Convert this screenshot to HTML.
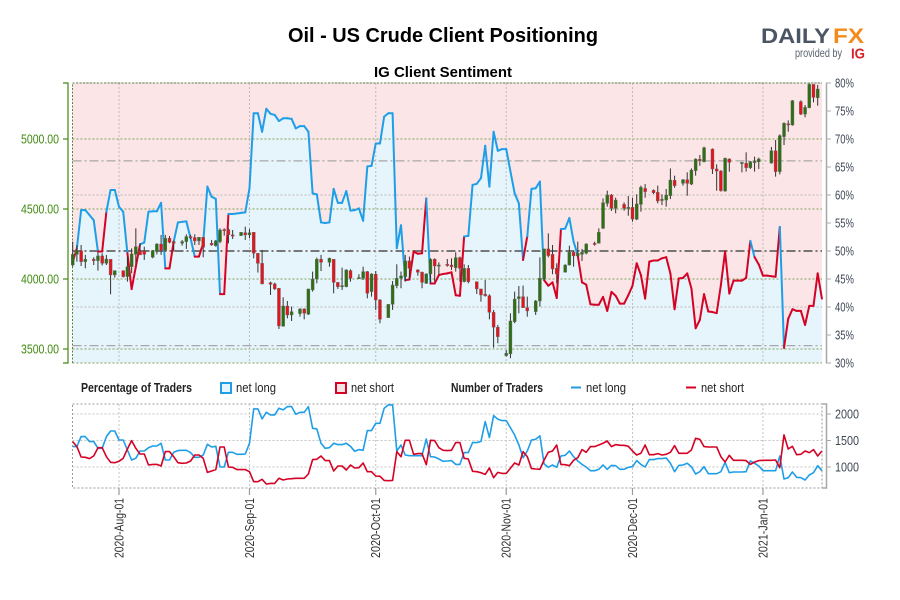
<!DOCTYPE html>
<html>
<head>
<meta charset="utf-8">
<title>Oil - US Crude Client Positioning</title>
<style>
html,body{margin:0;padding:0;background:#fff;}
#chart{display:block;width:900px;height:600px;font-family:"Liberation Sans",sans-serif;}
</style>
</head>
<body>
<svg id="chart" xmlns="http://www.w3.org/2000/svg" width="900" height="600" viewBox="0 0 900 600">
  <text x="288" y="42" font-size="20" font-weight="700" fill="#000" textLength="310" lengthAdjust="spacingAndGlyphs">Oil - US Crude Client Positioning</text>
  <text x="374" y="77" font-size="15" font-weight="700" fill="#000" textLength="138" lengthAdjust="spacingAndGlyphs">IG Client Sentiment</text>
  <g>
    <text x="761" y="43" font-size="21" font-weight="700" fill="#4b5563" textLength="69" lengthAdjust="spacingAndGlyphs">DAILY</text>
    <text x="833" y="43" font-size="21" font-weight="700" fill="#f28a1c" textLength="31" lengthAdjust="spacingAndGlyphs">FX</text>
    <text x="795" y="57" font-size="12" fill="#5a6370" textLength="47" lengthAdjust="spacingAndGlyphs">provided by</text>
    <text x="851" y="58.5" font-size="15" font-weight="700" fill="#d8232a" textLength="14" lengthAdjust="spacingAndGlyphs">IG</text>
  </g>
  <g id="main-panel"></g>
  <g font-size="13" fill="#222">
    <text x="81" y="392" font-weight="700" textLength="111" lengthAdjust="spacingAndGlyphs">Percentage of Traders</text>
    <rect x="221" y="383" width="10" height="10" fill="#e6f4fb" stroke="#1f9ee8" stroke-width="2"></rect>
    <text x="236" y="392" textLength="40" lengthAdjust="spacingAndGlyphs">net long</text>
    <rect x="336" y="383" width="10" height="10" fill="#f3e3e5" stroke="#d40224" stroke-width="2"></rect>
    <text x="351" y="392" textLength="43" lengthAdjust="spacingAndGlyphs">net short</text>
    <text x="451" y="392" font-weight="700" textLength="92" lengthAdjust="spacingAndGlyphs">Number of Traders</text>
    <line x1="571" x2="581" y1="387.5" y2="387.5" stroke="#1f9ee8" stroke-width="2"></line>
    <text x="586" y="392" textLength="40" lengthAdjust="spacingAndGlyphs">net long</text>
    <line x1="686" x2="696" y1="387.5" y2="387.5" stroke="#d40224" stroke-width="2"></line>
    <text x="701" y="392" textLength="43" lengthAdjust="spacingAndGlyphs">net short</text>
  </g>
  <g id="count-panel"></g>
</svg>
<script>
// ---- Data ----
const monthLabels = ['2020-Aug-01','2020-Sep-01','2020-Oct-01','2020-Nov-01','2020-Dec-01','2021-Jan-01'];
const monthDays = [11,42,72,103,133,164];
const priceTicks = [3500,4000,4500,5000];
const pctTicks = [30,35,40,45,50,55,60,65,70,75,80];
const countTicks = [1000,1500,2000];
const referenceLevels = [66.1,33.1];

// Percent of traders net long, one value per calendar day from 2020-07-21
const pctLong = [48,50.5,57.3,57.3,56.4,55.5,49.9,49.9,57,60.9,60.9,57.9,57,49.6,43.2,47.2,51.2,51.5,57,57.1,
57.1,58.6,46.9,46.9,51.7,55.1,55.2,55.3,52.3,49,49,51.4,61.5,59.7,59.3,42.3,42.3,56.6,56.6,56.7,
56.8,56.9,61.2,74.6,74.6,71.3,75.4,74.5,74.3,73.2,73.7,73.7,73.6,71.9,72.3,72.3,71.3,60.3,60.1,55.1,
55,55.1,61.1,58.6,58.6,60.7,57.2,57.3,57.6,55.4,65.1,65.2,69.2,69.2,74,74.6,74.6,50.5,54.6,44.8,
44.9,49.9,49.5,49.6,59.4,44.2,44.2,45.7,45.9,46,46.2,42.1,42,52.6,52.7,61.8,62,63,68.8,61.5,
71.3,67.9,68.2,68.2,64.2,60.3,58.5,48.4,52.6,61.1,61.2,62.4,44.8,43.8,44.4,41.6,53.9,54,55.9,51.7,
49.2,44.4,44,40.5,40.4,40.4,41.8,39.3,42.7,42,40.6,40.6,42.1,43.8,47.8,45.7,41.5,48.1,48.3,48.3,
48.7,48.9,46,39.6,45.1,45.2,46,43.3,36.2,37.7,42.3,39.2,39.1,38.9,43.9,49.9,42.4,44.7,44.7,44.7,
45.2,51.8,48.9,47.6,45.6,45.6,45.5,45.4,54.3,32.7,37.9,39.6,39.3,39.3,36.8,40.2,40.2,46,41.5];

const netLong = [1384,1384,1573,1573,1479,1479,1353,1353,1573,1680,1680,1510,1510,1321,1132,1164,1302,1302,1365,1397,
1397,1447,1132,1132,1277,1309,1315,1315,1271,1183,1183,1227,1428,1378,1391,1000,1000,1277,1277,1239,
1239,1246,1447,2096,2096,1907,2033,1983,1983,2109,2077,2140,2140,1995,2033,2033,2140,1731,1718,1447,1353,1365,
1447,1422,1422,1447,1391,1296,1328,1315,1687,1687,1825,1825,2109,2172,2172,1302,1416,1227,1214,1214,1214,1214,
1529,1195,1189,1151,1107,1113,1120,1050,1050,1271,1271,1460,1460,1485,1857,1554,1970,1901,1876,1876,1743,1605,
1416,1176,1302,1510,1523,1586,1057,994,1038,994,1208,1220,1302,1195,1113,1050,1000,931,931,956,
1038,956,1031,1025,956,956,994,1006,1120,1050,1000,1139,1139,1158,1158,1170,1069,912,1031,1038,1069,1006,868,912,
1006,874,874,874,912,1088,893,906,906,906,912,1113,1069,1019,931,931,931,931,1208,773,798,906,805,798,754,849,893,1025,931];

const netShort = [1479,1384,1189,1183,1158,1208,1365,1365,1195,1088,1082,1107,1164,1340,1498,1353,1246,1246,1038,1050,
1050,1019,1290,1290,1195,1082,1069,1076,1113,1227,1227,1164,899,924,950,1378,1378,1000,994,950,
950,950,912,723,723,767,679,691,691,786,754,773,780,786,786,786,868,1139,1145,1208,1120,1120,
924,1019,1019,943,1038,981,987,1076,912,912,830,824,748,742,748,1290,1195,1504,1504,1239,1252,1252,
1044,1504,1498,1365,1315,1309,1315,1460,1460,1164,1151,918,912,893,861,981,798,899,880,880,975,1076,
1038,1290,1195,969,962,956,1132,1277,1302,1416,1050,1044,1025,1126,1176,1328,1277,1384,1384,1416,
1447,1491,1384,1422,1410,1410,1391,1302,1227,1258,1416,1233,1233,1252,1227,1239,1277,1403,1258,1258,1258,1321,1542,1523,
1384,1378,1378,1378,1195,1095,1220,1126,1126,1126,1120,1050,1095,1120,1126,1126,1126,1132,987,1605,1340,1391,1233,1239,1302,1271,1328,1208,1302];

// Candles: day offset from 2020-07-21, then open/high/low/close
const candleDays = [0,1,2,3,5,6,7,8,9,10,12,13,14,15,16,17,19,20,21,22,23,24,26,27,28,29,30,31,33,34,35,36,37,38,40,41,42,43,44,45,47,48,49,50,51,52,54,55,56,57,58,59,
61,62,63,64,65,66,68,69,70,71,72,73,75,76,77,78,79,80,82,83,84,85,86,87,89,90,91,92,93,94,96,97,98,99,100,101,103,104,105,106,107,108,110,111,112,113,114,115,117,118,119,120,121,122,124,125,
126,127,128,129,131,132,133,134,135,136,138,139,140,141,142,143,145,146,147,148,149,150,152,153,154,155,156,159,160,161,162,163,166,167,168,169,170,171,173,174,175,176,177];
const candleOpen = [4100,4176,4203,4124,4141,4131,4165,4112,4141,4029,4060,4017,4088,4176,4200,4200,4155,4196,4250,4203,4291,4267,4255,4267,4303,4296,4272,4298,4255,4238,4267,4353,4353,4315,4310,4331,4315,4334,4184,4112,3974,3965,3934,3662,3807,3743,3753,3786,3748,3922,4000,4141,
4119,4141,3976,3950,3945,4060,4007,4005,4053,3910,4034,3850,3724,3819,3953,4005,4017,4129,4065,4048,3969,4036,4141,4093,4105,4100,4081,4153,3981,4076,3981,3929,3891,3881,3762,3655,3453,3465,3695,3860,3874,3795,3767,3843,4000,4215,4176,4076,4048,4100,4191,4165,4176,4184,4255,4255,
4362,4540,4600,4505,4533,4509,4512,4426,4533,4647,4633,4619,4564,4564,4595,4705,4683,4709,4678,4774,4855,4838,4928,4786,4771,4628,4857,4831,4826,4795,4836,4838,4828,4916,4767,5017,5109,5100,5267,5178,5224,5390,5295];
const candleHigh = [4267,4243,4243,4172,4155,4191,4184,4172,4141,4060,4060,4160,4219,4362,4255,4231,4207,4255,4315,4315,4307,4274,4279,4319,4315,4319,4298,4298,4279,4279,4362,4362,4362,4350,4334,4374,4357,4334,4184,4207,3981,3974,3934,3869,3843,3803,3791,3791,3929,4053,4153,4172,
4153,4141,3976,4081,4069,4069,4034,4088,4057,4041,4057,3857,3819,3986,4105,4053,4172,4160,4069,4053,4041,4148,4148,4119,4143,4148,4191,4160,4105,4100,3981,3929,3993,3891,3779,3672,3493,3755,3910,3950,3953,3874,3850,4155,4215,4326,4243,4112,4105,4238,4200,4267,4215,4255,4267,4362,
4576,4631,4607,4581,4547,4593,4581,4605,4667,4678,4640,4667,4605,4643,4790,4738,4714,4762,4790,4862,4886,4945,4933,4819,4778,4867,4862,4833,4905,4843,4874,4867,4943,4993,5033,5119,5133,5278,5276,5243,5397,5390,5386];
const candleLow = [4088,4124,4093,4076,4100,4060,4096,4100,3891,4010,4010,3981,4041,4105,4172,4136,4148,4176,4172,4196,4255,4196,4238,4215,4286,4243,4243,4155,4238,4231,4255,4310,4255,4286,4307,4279,4291,4148,4046,3962,3886,3922,3643,3660,3719,3700,3731,3712,3743,3910,3969,4057,
4088,3898,3929,3922,3941,3981,4005,3993,3862,3874,3779,3684,3724,3779,3934,3934,3981,3993,4024,3934,3965,3969,3981,4029,4088,4065,4053,3981,3976,3969,3893,3838,3874,3712,3510,3541,3446,3434,3684,3755,3795,3731,3743,3803,3993,4155,4034,3969,4046,4096,4088,4160,4129,4176,4238,4255,
4357,4517,4486,4469,4488,4452,4409,4421,4481,4581,4607,4540,4528,4517,4571,4652,4667,4595,4671,4738,4809,4833,4750,4631,4624,4624,4767,4762,4767,4786,4767,4786,4824,4731,4747,4957,5052,5095,5171,5155,5219,5262,5238];
const candleClose = [4176,4203,4124,4141,4131,4165,4112,4143,4029,4060,4017,4088,4179,4231,4172,4176,4203,4250,4203,4291,4262,4255,4267,4303,4296,4272,4298,4226,4243,4272,4350,4348,4315,4310,4334,4315,4331,4184,4112,3965,3962,3929,3665,3807,3743,3767,3786,3755,3929,4000,4141,4119,
4148,3976,3945,3953,4065,4005,4010,4053,3898,4036,3850,3712,3819,3957,4005,4022,4129,4076,4048,3976,4036,4141,4093,4100,4100,4088,4153,4076,4076,3981,3929,3886,3881,3762,3655,3588,3469,3700,3857,3874,3795,3772,3843,4005,4215,4167,4072,4036,4100,4191,4165,4184,4191,4250,4250,4334,
4545,4600,4505,4564,4505,4512,4428,4536,4655,4624,4616,4557,4569,4600,4707,4667,4709,4683,4778,4857,4845,4938,4786,4771,4631,4862,4833,4833,4795,4838,4840,4857,4916,4767,5024,5112,5105,5274,5178,5226,5390,5297,5357];

// ---- Scales ----
function xDay(d){ return 72.7 + 4.209 * d; }
function yPrice(p){ return 139 + (5000 - p) * 0.14; }
function yPct(p){ return 83 + (80 - p) * 5.6; }
function yCount(c){ return 467 - (c - 1000) * 0.053; }

const NS = 'http://www.w3.org/2000/svg';
function mk(parent, tag, attrs, txt){
  const el = document.createElementNS(NS, tag);
  for (const k in attrs) el.setAttribute(k, attrs[k]);
  if (txt !== undefined) el.textContent = txt;
  parent.appendChild(el);
  return el;
}
const main = document.getElementById('main-panel');
const lower = document.getElementById('count-panel');
const LEFT = 72.5, RIGHT = 822, TOP = 83, BOT = 363, MID = yPct(50);
const BLUE = '#1f9ee8', RED = '#d40224', PINK = '#fbe5e6', SKY = '#e6f4fb', GREEN = '#3f8a0f';
let el;

// backgrounds
el = mk(main, 'rect', {x:LEFT, y:TOP, width:RIGHT-LEFT, height:MID-TOP, fill:PINK});


el = mk(main, 'rect', {x:LEFT, y:MID, width:RIGHT-LEFT, height:BOT-MID, fill:SKY});



// area fills clipped either side of 50 %
const defs = mk(main, 'defs', {});
const cpA = mk(defs, 'clipPath', {id:'above-mid'});
mk(cpA, 'rect', {x:LEFT, y:TOP, width:RIGHT-LEFT, height:MID-TOP});
const cpB = mk(defs, 'clipPath', {id:'below-mid'});
mk(cpB, 'rect', {x:LEFT, y:MID, width:RIGHT-LEFT, height:BOT-MID});
let areaPts = xDay(0) + ',' + MID + ' ';
pctLong.forEach(function(v, i){ areaPts += xDay(i).toFixed(1) + ',' + yPct(v).toFixed(1) + ' '; });
areaPts += xDay(pctLong.length - 1) + ',' + MID;
el = mk(main, 'polygon', {points:areaPts, fill:SKY, 'clip-path':'url(#above-mid)'});


el = mk(main, 'polygon', {points:areaPts, fill:PINK, 'clip-path':'url(#below-mid)'});



// grid: percent lines every 10
[30,40,50,60,70,80].forEach(function(p){
  if (p === 50) return;
  el = mk(main, 'line', {x1:LEFT, x2:RIGHT, y1:yPct(p), y2:yPct(p), stroke:'#b9b9b9', 'stroke-width':1, 'stroke-dasharray':'2 2'});
  
  
});
// grid: price lines
priceTicks.forEach(function(p){
  el = mk(main, 'line', {x1:LEFT, x2:RIGHT, y1:yPrice(p), y2:yPrice(p), stroke:'#7f9f55', 'stroke-width':1, 'stroke-dasharray':'2 2'});
  
  
});
// grid: months
monthDays.forEach(function(d){
  el = mk(main, 'line', {x1:xDay(d), x2:xDay(d), y1:TOP, y2:BOT, stroke:'#bdbdbd', 'stroke-width':1, 'stroke-dasharray':'2 2'});
  
  
});
// frame dotted
el = mk(main, 'path', {d:'M'+LEFT+' '+BOT+'V'+TOP+'H'+RIGHT, fill:'none', stroke:'#5f7f45', 'stroke-width':1, 'stroke-dasharray':'2 1.5'});


el = mk(main, 'line', {x1:LEFT, x2:RIGHT, y1:BOT, y2:BOT, stroke:'#7f9f55', 'stroke-width':1, 'stroke-dasharray':'2 2'});



// reference dash-dot lines
referenceLevels.forEach(function(level){
  el = mk(main, 'line', {x1:LEFT, x2:RIGHT, y1:yPct(level), y2:yPct(level), stroke:'#a8a6a7', 'stroke-width':1.3, 'stroke-dasharray':'9 3 2 3'});
  
  
});
el = mk(main, 'line', {x1:LEFT, x2:RIGHT, y1:MID, y2:MID, stroke:'#777', 'stroke-width':2, 'stroke-dasharray':'9 3 2 3'});



// sentiment line: each segment coloured by its starting point
for (let i = 0; i < pctLong.length - 1; i++) {
  el = mk(main, 'line', {x1:xDay(i), y1:yPct(pctLong[i]), x2:xDay(i+1), y2:yPct(pctLong[i+1]), stroke:pctLong[i] >= 50 ? BLUE : RED, 'stroke-width':2, 'stroke-linecap':'round'});
  
  
}

// candles
candleDays.forEach(function(d, i){
  const o = candleOpen[i], h = candleHigh[i], l = candleLow[i], c = candleClose[i];
  const up = c >= o;
  const g = mk(main, 'g', {});
  
  
  el = mk(g, 'line', {x1:xDay(d), x2:xDay(d), y1:yPrice(h), y2:yPrice(l), stroke:'#333', 'stroke-width':1});
  
  
  const top = yPrice(Math.max(o, c)), bh = Math.max(1.2, Math.abs(yPrice(o) - yPrice(c)));
  el = mk(g, 'rect', {x:xDay(d)-1.5, y:top, width:3, height:bh, fill:up ? '#2f6f14' : '#e2141e', stroke:'#666', 'stroke-width':0.4});
  
  
});

// left price axis
el = mk(main, 'path', {d:'M63 '+TOP+'H68V'+BOT+'H63', fill:'none', stroke:GREEN, 'stroke-width':1.2});


priceTicks.forEach(function(p){
  el = mk(main, 'line', {x1:63, x2:68, y1:yPrice(p), y2:yPrice(p), stroke:GREEN, 'stroke-width':1.2});
  
  
  el = mk(main, 'text', {x:21, y:yPrice(p)+4.5, 'font-size':12.5, fill:GREEN, textLength:38, lengthAdjust:'spacingAndGlyphs'}, p.toFixed(2));
  
  
});

// right percent axis
el = mk(main, 'line', {x1:826.5, x2:826.5, y1:TOP, y2:BOT, stroke:'#a8a8a8', 'stroke-width':1.5});


pctTicks.forEach(function(p){
  el = mk(main, 'line', {x1:826, x2:831, y1:yPct(p), y2:yPct(p), stroke:'#a8a8a8', 'stroke-width':1});
  
  
  el = mk(main, 'text', {x:835, y:yPct(p)+4.5, 'font-size':13, fill:'#3d4654', textLength:19, lengthAdjust:'spacingAndGlyphs'}, p + '%');
  
  
});

// ---- lower panel ----
const LT = 404, LB = 488;
el = mk(lower, 'rect', {x:LEFT, y:LT, width:RIGHT-LEFT, height:LB-LT, fill:'none', stroke:'#9a9a9a', 'stroke-width':1, 'stroke-dasharray':'2 2'});


countTicks.forEach(function(c){
  el = mk(lower, 'line', {x1:LEFT, x2:RIGHT, y1:yCount(c), y2:yCount(c), stroke:'#c4c4c4', 'stroke-width':1, 'stroke-dasharray':'2 2'});
  
  
});
monthDays.forEach(function(d, i){
  el = mk(lower, 'line', {x1:xDay(d), x2:xDay(d), y1:LT, y2:LB, stroke:'#c4c4c4', 'stroke-width':1, 'stroke-dasharray':'2 2'});
  
  
  el = mk(lower, 'line', {x1:xDay(d), x2:xDay(d), y1:LB, y2:495, stroke:'#9a9a9a', 'stroke-width':1.2});
  
  
  const tx = xDay(d) + 4.5, ty = 558;
  el = mk(lower, 'text', {x:tx, y:ty, 'font-size':13, fill:'#333', transform:'rotate(-90 '+tx+' '+ty+')', textLength:60, lengthAdjust:'spacingAndGlyphs'}, monthLabels[i]);
  
  
});
function linePts(arr){
  return arr.map(function(v, i){ return xDay(i).toFixed(1) + ',' + yCount(v).toFixed(1); }).join(' ');
}
el = mk(lower, 'polyline', {points:linePts(netLong), fill:'none', stroke:BLUE, 'stroke-width':1.6, 'stroke-linejoin':'round'});


el = mk(lower, 'polyline', {points:linePts(netShort), fill:'none', stroke:RED, 'stroke-width':1.6, 'stroke-linejoin':'round'});


el = mk(lower, 'path', {d:'M822 '+LT+'H826.5V'+LB+'H822', fill:'none', stroke:'#a8a8a8', 'stroke-width':1.5});


countTicks.forEach(function(c){
  el = mk(lower, 'line', {x1:826, x2:831, y1:yCount(c), y2:yCount(c), stroke:'#a8a8a8', 'stroke-width':1});
  
  
  el = mk(lower, 'text', {x:835, y:yCount(c)+4.5, 'font-size':13, fill:'#3d4654', textLength:24, lengthAdjust:'spacingAndGlyphs'}, String(c));
  
  
});
</script>
</body>
</html>
